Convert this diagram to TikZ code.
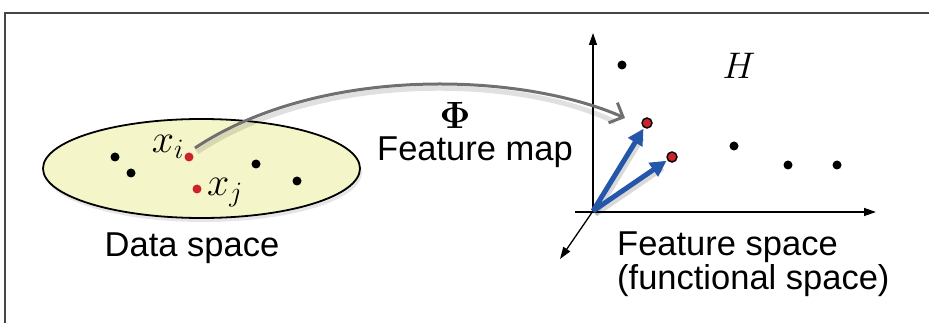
\RequirePackage{fix-cm}
\documentclass[tikz,border=0pt]{standalone}
\usepackage[no-math]{fontspec}
\setmainfont{Liberation Sans}
\usetikzlibrary{arrows.meta,shadows,shapes.geometric}
\definecolor{dotred}{RGB}{204,34,41}
\definecolor{setfill}{RGB}{245,245,202}
\definecolor{mapgray}{RGB}{112,112,112}
\definecolor{vecblue}{RGB}{36,86,170}
\definecolor{framegray}{RGB}{70,70,70}
\tikzset{
  dot/.style={circle,fill=black,inner sep=0pt,minimum size=9pt},
  reddot/.style={circle,fill=dotred,inner sep=0pt,minimum size=9pt},
  featred/.style={circle,fill=dotred,draw=black,line width=1.4pt,inner sep=0pt,minimum size=10pt},
  label/.style={font=\fontsize{34.5}{31}\selectfont,inner sep=0pt},
  mathlabel/.style={font=\fontsize{40}{46}\selectfont,inner sep=0pt},
  axis/.style={line width=1.3pt,-{Triangle[length=12pt,width=8pt]}},
  vec/.style={vecblue,line width=5pt,-{Triangle[length=16pt,width=16pt]}},
  soft/.style={drop shadow={opacity=0.2,shadow xshift=2pt,shadow yshift=-4pt}},
}
\begin{document}
\begin{tikzpicture}[x=1pt,y=-1pt]
\useasboundingbox (0,0) rectangle (929,323);
% frame
\draw[framegray,line width=1.6pt] (5,323) -- (5,13) -- (929,13);

% data space
\node[draw=black,line width=1.8pt,fill=setfill,ellipse,minimum width=317pt,minimum height=99pt,
      soft] (set) at (201.5,168.5) {};
\node[dot] (d1) at (115,157) {};
\node[dot] (d2) at (131,173) {};
\node[dot] (d3) at (256,164) {};
\node[dot] (d4) at (297,181) {};
\node[reddot] (xi) at (189,157) {};
\node[reddot] (xj) at (197,189) {};
\node[mathlabel,anchor=base] (xil) at (168,153) {$x_i$};
\node[mathlabel,anchor=base west] (xjl) at (207,196) {$x_j$};
\node[label,anchor=base] (dsl) at (192,257) {Data space};

% feature space axes
\coordinate (o) at (593,211);
\coordinate (ytip) at (593,33);
\coordinate (xstart) at (575,212);
\coordinate (xtip) at (876,212);
\coordinate (ztip) at (560,259);
\draw[axis] (o) -- (ytip);
\draw[axis] (xstart) -- (xtip);
\draw[axis] (o) -- (ztip);

\node[dot] (f1) at (622,65) {};
\node[dot] (f2) at (734,146) {};
\node[dot] (f3) at (788,165) {};
\node[dot] (f4) at (837,165) {};
\node[featred] (fi) at (647,123) {};
\node[featred] (fj) at (672,157) {};
\node[mathlabel,font=\fontsize{37}{44}\selectfont] (H) at (739,66) {$H$};

% soft shadows under the feature vectors
\draw[black,opacity=0.15,line width=6pt,shorten >=14pt] ([shift={(2,3)}]o) -- ([shift={(2,3)}]fi.center);
\draw[black,opacity=0.15,line width=6pt,shorten >=14pt] ([shift={(2,3)}]o) -- ([shift={(2,3)}]fj.center);
\draw[vec,shorten >=1pt] (o) -- (fi);
\draw[vec,shorten >=1pt] (o) -- (fj);

% feature map: from beside x_i to just short of its image
\coordinate (ms) at ([shift={(6,-9)}]xi.center);
\coordinate (me) at ([shift={(-22,-5)}]fi.center);
\draw[black,opacity=0.12,line width=5pt]
  ([shift={(2,4)}]ms) .. controls (322,69) and (522,76) .. ([shift={(-10,4)}]me);
\draw[mapgray,line width=3pt,-{Straight Barb[length=11pt,width=22pt,line width=3pt]}]
  (ms) .. controls (320,65) and (520,72) .. (me);
\node[mathlabel,font=\fontsize{38}{44}\selectfont] (phi) at (455,115) {$\mathbf{\Phi}$};
\node[label,anchor=base] (fml) at (475,161) {Feature map};

\node[label,anchor=north west,align=left] (fsl) at (617,232)
  {Feature space\\(functional space)};
\end{tikzpicture}
\end{document}
